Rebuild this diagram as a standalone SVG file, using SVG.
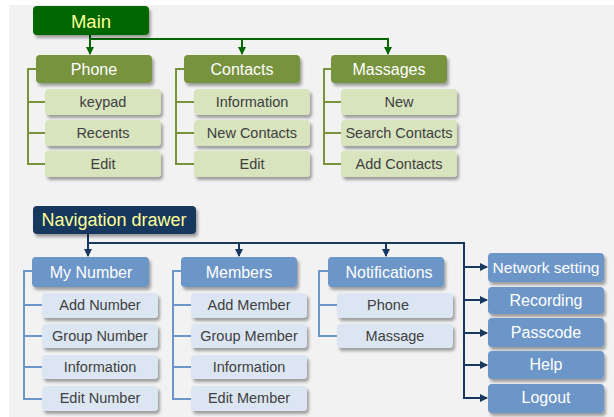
<svg xmlns="http://www.w3.org/2000/svg" width="614" height="417" viewBox="0 0 614 417">
<defs>
<filter id="sh" x="-10%" y="-20%" width="130%" height="160%">
<feDropShadow dx="2" dy="3" stdDeviation="1.5" flood-color="#000" flood-opacity="0.35"/>
</filter>
<marker id="ag" markerWidth="8" markerHeight="8" viewBox="0 0 8 8" refX="7" refY="4" orient="auto" markerUnits="userSpaceOnUse"><path d="M0,0 L8,4 L0,8 z" fill="#006600"/></marker>
<marker id="ab" markerWidth="8" markerHeight="8" viewBox="0 0 8 8" refX="7" refY="4" orient="auto" markerUnits="userSpaceOnUse"><path d="M0,0 L8,4 L0,8 z" fill="#17375e"/></marker>
</defs>
<style>
text{font-family:"Liberation Sans",Arial,sans-serif;text-anchor:middle;dominant-baseline:central}
.root text{fill:#ffff99;font-size:18px}
.g1 rect{fill:#77933c}
.g2 rect{fill:#d7e4bd}
.b1 rect{fill:#6c95c8}
.b2 rect{fill:#dce6f2}
.g1 text,.b1 text{fill:#fff;font-size:16px}
.g2 text,.b2 text{fill:#404040;font-size:14.5px}
rect{filter:url(#sh)}
.cg{stroke:#006600;stroke-width:2;fill:none}
.cb{stroke:#17375e;stroke-width:2;fill:none}
.bg{stroke:#77933c;stroke-width:2;fill:none}
.bb{stroke:#6c95c8;stroke-width:2;fill:none}
</style>
<rect x="9" y="5" width="605" height="412" fill="#f2f2f2" style="filter:none"/>
<g id="connectors">
<path class="cg" d="M90,35 V54" marker-end="url(#ag)"/>
<path class="cg" d="M90,39 H388 V54" marker-end="url(#ag)"/>
<path class="cg" d="M242,39 V54" marker-end="url(#ag)"/>
<path class="bg" d="M36,69 H28 V164 H45 M28,102 H45 M28,133 H45"/>
<path class="bg" d="M184,69 H176 V164 H194 M176,102 H194 M176,133 H194"/>
<path class="bg" d="M331,69 H324 V164 H341 M324,102 H341 M324,133 H341"/>
<path class="cb" d="M88,234 V256" marker-end="url(#ab)"/>
<path class="cb" d="M88,243 H464 V398 H487" marker-end="url(#ab)"/>
<path class="cb" d="M239,243 V256" marker-end="url(#ab)"/>
<path class="cb" d="M386,243 V256" marker-end="url(#ab)"/>
<path class="cb" d="M464,267 H487" marker-end="url(#ab)"/>
<path class="cb" d="M464,300 H487" marker-end="url(#ab)"/>
<path class="cb" d="M464,333 H487" marker-end="url(#ab)"/>
<path class="cb" d="M464,365 H487" marker-end="url(#ab)"/>
<path class="bb" d="M32,271 H24 V399 H42 M24,305 H42 M24,336 H42 M24,367 H42"/>
<path class="bb" d="M181,271 H173 V399 H191 M173,305 H191 M173,336 H191 M173,367 H191"/>
<path class="bb" d="M328,271 H319 V336 H337 M319,305 H337"/>
</g>
<g id="main" class="root"><rect x="33" y="6" width="116" height="29" rx="4" fill="#006600"/><text x="91" y="21" style="font-size:18.5px">Main</text></g>
<g id="phone" class="g1"><rect x="36" y="55" width="116" height="28" rx="4"/><text x="94" y="69">Phone</text></g>
<g id="contacts" class="g1"><rect x="184" y="55" width="116" height="28" rx="4"/><text x="242" y="69">Contacts</text></g>
<g id="massages" class="g1"><rect x="331" y="55" width="116" height="28" rx="4"/><text x="389" y="69">Massages</text></g>
<g id="keypad" class="g2"><rect x="45" y="89" width="116" height="26" rx="4"/><text x="103" y="102">keypad</text></g>
<g id="recents" class="g2"><rect x="45" y="120" width="116" height="26" rx="4"/><text x="103" y="133">Recents</text></g>
<g id="edit1" class="g2"><rect x="45" y="151" width="116" height="26" rx="4"/><text x="103" y="164">Edit</text></g>
<g id="information1" class="g2"><rect x="194" y="89" width="116" height="26" rx="4"/><text x="252" y="102">Information</text></g>
<g id="newcontacts" class="g2"><rect x="194" y="120" width="116" height="26" rx="4"/><text x="252" y="133">New Contacts</text></g>
<g id="edit2" class="g2"><rect x="194" y="151" width="116" height="26" rx="4"/><text x="252" y="164">Edit</text></g>
<g id="new" class="g2"><rect x="341" y="89" width="116" height="26" rx="4"/><text x="399" y="102">New</text></g>
<g id="searchcontacts" class="g2"><rect x="341" y="120" width="116" height="26" rx="4"/><text x="399" y="133">Search Contacts</text></g>
<g id="addcontacts" class="g2"><rect x="341" y="151" width="116" height="26" rx="4"/><text x="399" y="164">Add Contacts</text></g>
<g id="navdrawer" class="root"><rect x="33" y="206" width="163" height="28" rx="4" fill="#17375e"/><text x="114" y="220">Navigation drawer</text></g>
<g id="mynumber" class="b1"><rect x="32" y="257" width="117" height="30" rx="4"/><text x="91" y="272">My Number</text></g>
<g id="members" class="b1"><rect x="181" y="257" width="116" height="30" rx="4"/><text x="239" y="272">Members</text></g>
<g id="notifications" class="b1"><rect x="328" y="257" width="116" height="30" rx="4"/><text x="389" y="272">Notifications</text></g>
<g id="addnumber" class="b2"><rect x="42" y="293" width="116" height="25" rx="4"/><text x="100" y="305">Add Number</text></g>
<g id="groupnumber" class="b2"><rect x="42" y="324" width="116" height="24" rx="4"/><text x="100" y="336">Group Number</text></g>
<g id="information2" class="b2"><rect x="42" y="355" width="116" height="24" rx="4"/><text x="100" y="367">Information</text></g>
<g id="editnumber" class="b2"><rect x="42" y="386" width="116" height="25" rx="4"/><text x="100" y="398">Edit Number</text></g>
<g id="addmember" class="b2"><rect x="191" y="293" width="116" height="25" rx="4"/><text x="249" y="305">Add Member</text></g>
<g id="groupmember" class="b2"><rect x="191" y="324" width="116" height="24" rx="4"/><text x="249" y="336">Group Member</text></g>
<g id="information3" class="b2"><rect x="191" y="355" width="116" height="24" rx="4"/><text x="249" y="367">Information</text></g>
<g id="editmember" class="b2"><rect x="191" y="386" width="116" height="25" rx="4"/><text x="249" y="398">Edit Member</text></g>
<g id="phone2" class="b2"><rect x="337" y="293" width="116" height="25" rx="4"/><text x="388" y="305">Phone</text></g>
<g id="massage" class="b2"><rect x="337" y="324" width="116" height="24" rx="4"/><text x="395" y="336">Massage</text></g>
<g id="networksetting" class="b1"><rect x="488" y="253" width="116" height="29" rx="4"/><text x="546" y="267" style="font-size:15.5px">Network setting</text></g>
<g id="recording" class="b1"><rect x="488" y="287" width="116" height="27" rx="4"/><text x="546" y="300">Recording</text></g>
<g id="passcode" class="b1"><rect x="488" y="318" width="116" height="29" rx="4"/><text x="546" y="332">Passcode</text></g>
<g id="help" class="b1"><rect x="488" y="351" width="116" height="28" rx="4"/><text x="546" y="364">Help</text></g>
<g id="logout" class="b1"><rect x="488" y="384" width="116" height="29" rx="4"/><text x="546" y="397">Logout</text></g>
</svg>
